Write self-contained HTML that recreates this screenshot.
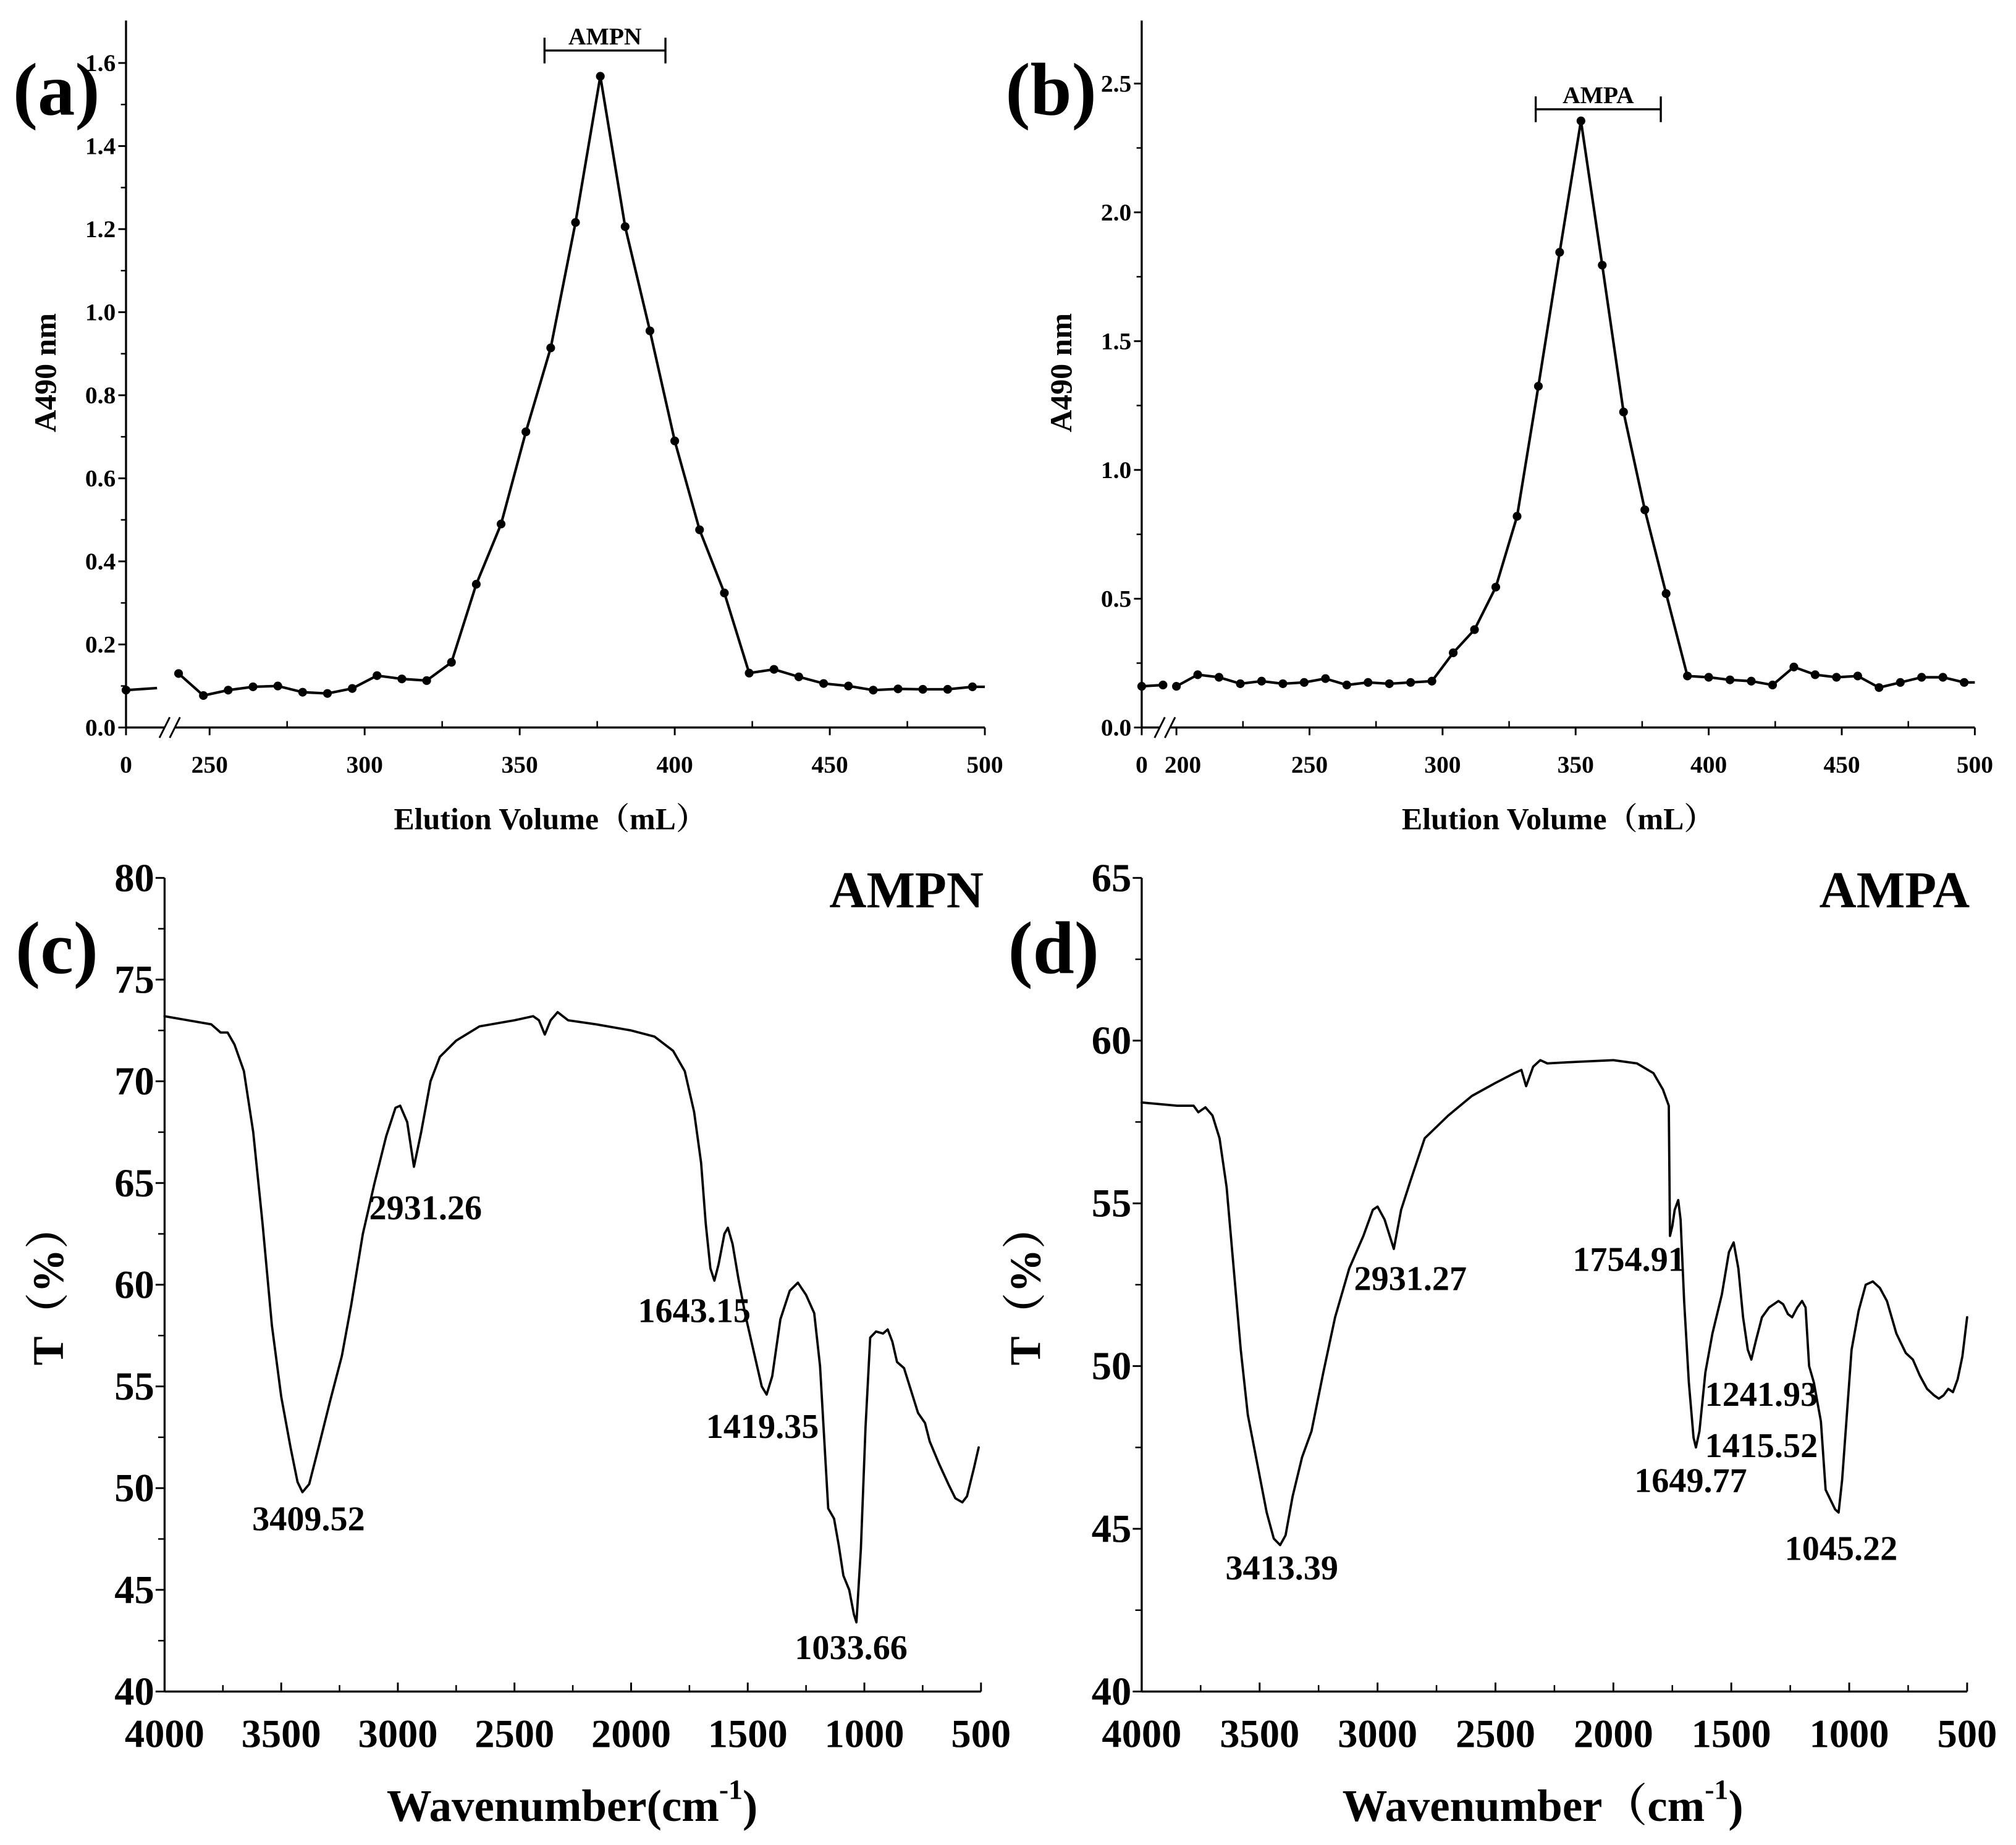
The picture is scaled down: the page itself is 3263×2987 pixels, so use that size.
<!DOCTYPE html>
<html><head><meta charset="utf-8"><style>
html,body{margin:0;padding:0;background:#fff;}
svg{display:block;font-family:"Liberation Serif","Noto Serif CJK SC",serif;font-weight:bold;}
</style></head><body>
<svg id="fig" width="3263" height="2987" viewBox="0 0 1568 1435.4" xmlns="http://www.w3.org/2000/svg"></svg>
<script>
// ---- Panel (a) data ----
const aVol = [240,248,256,264,272,280,288,296,304,312,320,328,336,344,352,360,368,376,384,392,400,408,416,424,432,440,448,456,464,472,480,488,496];
const aAbs = [0.13,0.077,0.09,0.098,0.10,0.085,0.082,0.094,0.125,0.117,0.113,0.157,0.345,0.49,0.712,0.914,1.216,1.568,1.206,0.955,0.69,0.476,0.324,0.131,0.14,0.122,0.106,0.10,0.09,0.093,0.092,0.092,0.098];
const aYTicks = [0,0.2,0.4,0.6,0.8,1.0,1.2,1.4,1.6];
const aXTicks = [250,300,350,400,450,500];
// ---- Panel (b) data ----
const bVol = [200,208,216,224,232,240,248,256,264,272,280,288,296,304,312,320,328,336,344,352,360,368,376,384,392,400,408,416,424,432,440,448,456,464,472,480,488,496];
const bAbs = [0.16,0.205,0.195,0.17,0.18,0.17,0.175,0.19,0.165,0.175,0.17,0.175,0.18,0.29,0.38,0.545,0.82,1.325,1.845,2.355,1.795,1.225,0.845,0.52,0.2,0.195,0.185,0.18,0.165,0.235,0.205,0.195,0.2,0.155,0.175,0.195,0.195,0.175];
const bYTicks = [0,0.5,1.0,1.5,2.0,2.5];
const bXTicks = [250,300,350,400,450,500];
// ---- Panel (c) data (wavenumber, T%) ----
const cWn = [4000,3900,3800,3760,3730,3700,3660,3620,3580,3540,3500,3460,3430,3409,3380,3340,3290,3240,3200,3150,3100,3050,3010,2990,2960,2931,2900,2860,2820,2750,2650,2500,2420,2395,2370,2345,2315,2270,2150,2000,1900,1820,1770,1730,1700,1680,1660,1643,1625,1600,1585,1565,1540,1510,1470,1440,1419,1395,1360,1320,1285,1250,1215,1190,1170,1155,1130,1110,1090,1065,1045,1034,1015,995,975,950,920,900,880,860,830,800,770,740,720,680,640,610,580,560,530,510];
const cT = [73.2,73.0,72.8,72.4,72.4,71.8,70.5,67.5,63,58,54.5,52,50.3,49.8,50.2,52,54.3,56.5,59,62.5,65,67.3,68.7,68.8,68,65.8,67.5,70,71.2,72,72.7,73.0,73.2,73.0,72.3,73.0,73.4,73.0,72.8,72.5,72.2,71.5,70.5,68.5,66,63,60.8,60.2,61,62.5,62.8,62,60.3,58.5,56.5,55,54.6,55.5,58.3,59.7,60.1,59.5,58.6,56,52,49,48.5,47.2,45.7,45,43.8,43.4,47,53,57.4,57.7,57.6,57.8,57.2,56.2,55.9,54.8,53.7,53.2,52.3,51.2,50.2,49.5,49.3,49.6,51,52];
// ---- Panel (d) data ----
const dWn = [4000,3850,3780,3760,3730,3700,3670,3640,3610,3580,3550,3510,3470,3440,3413,3390,3360,3320,3280,3230,3180,3120,3060,3020,3000,2970,2931,2900,2860,2800,2700,2600,2500,2420,2390,2370,2340,2310,2280,2150,2000,1900,1830,1790,1765,1760,1750,1740,1725,1715,1700,1680,1660,1650,1635,1610,1580,1540,1510,1490,1470,1450,1430,1415,1395,1370,1340,1300,1280,1260,1242,1220,1200,1185,1170,1150,1120,1100,1080,1060,1045,1030,1010,990,960,930,900,870,840,800,760,730,700,670,640,620,600,580,560,540,520,500];
const dT = [58.1,58.0,58.0,57.8,57.95,57.7,57,55.5,53,50.5,48.5,47,45.5,44.7,44.5,44.8,46,47.2,48,49.8,51.5,53,54,54.8,54.9,54.5,53.6,54.8,55.7,57,57.7,58.3,58.7,59.0,59.1,58.6,59.2,59.4,59.3,59.35,59.4,59.3,59.0,58.5,58.0,54.0,54.3,54.8,55.1,54.5,52,49.5,47.8,47.5,48,49.8,51,52.2,53.5,53.8,53,51.5,50.5,50.2,50.8,51.5,51.8,52.0,51.9,51.6,51.5,51.8,52.0,51.8,50,49.5,48.3,46.2,45.9,45.6,45.5,46.5,48.5,50.5,51.7,52.5,52.6,52.4,52,51,50.4,50.2,49.7,49.3,49.1,49.0,49.1,49.3,49.2,49.6,50.3,51.5];
const irXTicks = [4000,3500,3000,2500,2000,1500,1000,500];
const cYTicks = [40,45,50,55,60,65,70,75,80];
const dYTicks = [40,45,50,55,60,65];

const NS="http://www.w3.org/2000/svg";
const svg=document.getElementById('fig');
function el(tag,attrs,parent){const e=document.createElementNS(NS,tag);for(const k in attrs)e.setAttribute(k,attrs[k]);(parent||svg).appendChild(e);return e;}
function txt(s,x,y,size,anchor,parent,extra){const t=el('text',Object.assign({x:x,y:y,'font-size':size,'text-anchor':anchor||'middle','dominant-baseline':'central',fill:'#000'},extra||{}),parent);t.textContent=s;return t;}

// ===== Elution panels =====
function elution(opt){
  const g=el('g',{});
  
  
  const y0=566,yTop=16;
  const ys=v=>y0-(v/opt.yMax)*(y0-opt.yMaxPx);
  const k=opt.k;
  const xs=v=>v<100?opt.x0+v*k:opt.xb+(v-opt.xbv)*k;
  const ya=el('line',{x1:opt.x0,y1:y0,x2:opt.x0,y2:yTop,stroke:'#000','stroke-width':1.6},g);
  
  const xa1=el('line',{x1:opt.x0,y1:y0,x2:opt.brk-3,y2:y0,stroke:'#000','stroke-width':1.6},g);
  
  const xa2=el('line',{x1:opt.brk+5,y1:y0,x2:opt.xEnd,y2:y0,stroke:'#000','stroke-width':1.6},g);
  
  for(const d of [-3,5]){const b=el('line',{x1:opt.brk+d-4,y1:y0+8,x2:opt.brk+d+4,y2:y0-8,stroke:'#000','stroke-width':1.4},g);
    }
  opt.yTicks.forEach((v,i)=>{
    el('line',{x1:opt.x0-6,y1:ys(v),x2:opt.x0,y2:ys(v),stroke:'#000','stroke-width':1.4},g);
    const t=txt(v.toFixed(1),opt.x0-8,ys(v),19,'end',g);
    
    if(i<opt.yTicks.length-1){const m=(v+opt.yTicks[i+1])/2;el('line',{x1:opt.x0-4,y1:ys(m),x2:opt.x0,y2:ys(m),stroke:'#000','stroke-width':1.2},g);}
  });
  const t0=txt('0',opt.x0,y0+29,19,'middle',g);
  el('line',{x1:opt.x0,y1:y0,x2:opt.x0,y2:y0+6,stroke:'#000','stroke-width':1.4},g);
  opt.xTicks.forEach(v=>{
    el('line',{x1:xs(v),y1:y0,x2:xs(v),y2:y0+6,stroke:'#000','stroke-width':1.4},g);
    const t=txt(String(v),xs(v),y0+29,19,'middle',g);
    
  });
  for(let v=opt.xbv+25;v<500;v+=50){el('line',{x1:xs(v),y1:y0,x2:xs(v),y2:y0-5,stroke:'#000','stroke-width':1.2},g);}
  if(opt.extraTick){const v=opt.extraTick;el('line',{x1:xs(v),y1:y0,x2:xs(v),y2:y0+6,stroke:'#000','stroke-width':1.4},g);
    const t=txt(String(v),xs(v)+5,y0+29,19,'middle',g);}
  let d0='M'+xs(0)+' '+ys(opt.firstY)+' L'+xs(opt.firstEndV)+' '+ys(opt.firstEndY);
  const fl=el('path',{d:d0,fill:'none',stroke:'#000','stroke-width':2},g);
  
  const fd=el('circle',{cx:xs(0),cy:ys(opt.firstY),r:3.4,fill:'#000'},g);
  
  if(opt.firstPts)opt.firstPts.forEach(v=>{const c=el('circle',{cx:xs(v),cy:ys(opt.firstEndY),r:3.4,fill:'#000'},g);
    });
  let d='';opt.vol.forEach((v,i)=>{d+=(i?'L':'M')+xs(v).toFixed(2)+' '+ys(opt.abs[i]).toFixed(2)+' ';});
  d+='L'+xs(500)+' '+ys(opt.abs[opt.abs.length-1]);
  const ln=el('path',{d:d,fill:'none',stroke:'#000','stroke-width':2,'stroke-linejoin':'round'},g);
  
  opt.vol.forEach((v,i)=>{const c=el('circle',{cx:xs(v),cy:ys(opt.abs[i]),r:3.4,fill:'#000'},g);
    });
  const bx1=xs(opt.br[0]),bx2=xs(opt.br[1]),by=ys(opt.br[2]);
  const br=el('path',{d:`M${bx1} ${by-10}V${by+10}M${bx1} ${by}H${bx2}M${bx2} ${by-10}V${by+10}`,stroke:'#000','stroke-width':1.6,fill:'none'},g);
  
  const bl=txt(opt.brLabel,(bx1+bx2)/2,by-11,19,'middle',g);
  
  const xt=txt('Elution Volume（mL）',opt.xTitleX,637,24,'middle',g);
  
  const yt=txt('A490 nm',0,0,24,'middle',g,{transform:`translate(${opt.x0-63},290) rotate(-90)`});
  
  const pl=txt(opt.letter,opt.lx,70,58,'start',g);
  
}
elution({name:'panel-a',x0:98,xb:163,xbv:250,k:2.412,brk:131,xEnd:766,yMax:1.6,yMaxPx:49,yTicks:aYTicks,xTicks:aXTicks,
  vol:aVol,abs:aAbs,firstY:0.09,firstEndV:10,firstEndY:0.095,br:[358,397,1.63],brLabel:'AMPN',xTitleX:428,letter:'(a)',lx:10});
elution({name:'panel-b',x0:888,xb:915,xbv:200,k:2.07,brk:905,xEnd:1536,yMax:2.5,yMaxPx:65,yTicks:bYTicks,xTicks:bXTicks,extraTick:200,
  vol:bVol,abs:bAbs,firstY:0.16,firstEndV:8,firstEndY:0.165,firstPts:[8],br:[335,382,2.4],brLabel:'AMPA',xTitleX:1212,letter:'(b)',lx:782});

// ===== IR panels =====
function ir(opt){
  const g=el('g',{});
  
  
  const yT=683,yB=1316;
  const ys=v=>yB-(v-opt.yMin)/(opt.yMax-opt.yMin)*(yB-yT);
  const xs=w=>opt.xL+(4000-w)/3500*(opt.xR-opt.xL);
  const ya=el('line',{x1:opt.xL,y1:yB,x2:opt.xL,y2:yT,stroke:'#000','stroke-width':1.6},g);
  
  const xa=el('line',{x1:opt.xL,y1:yB,x2:opt.xR,y2:yB,stroke:'#000','stroke-width':1.6},g);
  
  opt.yTicks.forEach((v,i)=>{
    el('line',{x1:opt.xL-7,y1:ys(v),x2:opt.xL,y2:ys(v),stroke:'#000','stroke-width':1.4},g);
    const t=txt(String(v),opt.xL-8,ys(v),31,'end',g);
    
    if(i<opt.yTicks.length-1)el('line',{x1:opt.xL-5,y1:ys(v+2.5),x2:opt.xL,y2:ys(v+2.5),stroke:'#000','stroke-width':1.2},g);
  });
  irXTicks.forEach((w,i)=>{
    el('line',{x1:xs(w),y1:yB,x2:xs(w),y2:yB-7,stroke:'#000','stroke-width':1.4},g);
    const t=txt(String(w),xs(w),yB+33,31,'middle',g);
    
    if(i<irXTicks.length-1)el('line',{x1:xs(w-250),y1:yB,x2:xs(w-250),y2:yB-5,stroke:'#000','stroke-width':1.2},g);
  });
  let d='';opt.wn.forEach((w,i)=>{d+=(i?'L':'M')+xs(w).toFixed(2)+' '+ys(opt.t[i]).toFixed(2)+' ';});
  const ln=el('path',{d:d,fill:'none',stroke:'#000','stroke-width':1.8,'stroke-linejoin':'round','stroke-linecap':'round'},g);
  
  opt.peaks.forEach(p=>{const t=txt(p[0],p[1],p[2],27,'middle',g);
    });
  const st=txt(opt.sample,opt.xR+2,693,40,'end',g);
  
  const xt=el('text',{x:opt.xTitleX,y:1405,'font-size':35,'text-anchor':'middle','dominant-baseline':'central'},g);
  
  xt.innerHTML=opt.xTitle+'<tspan font-size="22" dy="-13">-1</tspan><tspan dy="13">)</tspan>';
  const yt=txt('T（%）',0,0,34,'middle',g,{transform:`translate(${opt.xL-90},1000) rotate(-90)`});
  
  const pl=txt(opt.letter,opt.lx,738,58,'start',g);
  
}
ir({name:'panel-c',xL:128,xR:763,yMin:40,yMax:80,yTicks:cYTicks,wn:cWn,t:cT,sample:'AMPN',xTitle:'Wavenumber(cm',xTitleX:445,letter:'(c)',lx:12,
  peaks:[['3409.52',240,1182],['2931.26',331,940],['1643.15',540,1020],['1419.35',593,1110],['1033.66',662,1282]]});
ir({name:'panel-d',xL:888,xR:1530,yMin:40,yMax:65,yTicks:dYTicks,wn:dWn,t:dT,sample:'AMPA',xTitle:'Wavenumber（cm',xTitleX:1200,letter:'(d)',lx:784,
  peaks:[['3413.39',997,1220],['2931.27',1097,995],['1754.91',1267,980],['1241.93',1370,1085],['1415.52',1370,1125],['1649.77',1315,1152],['1045.22',1432,1205]]});
</script>
</body></html>
